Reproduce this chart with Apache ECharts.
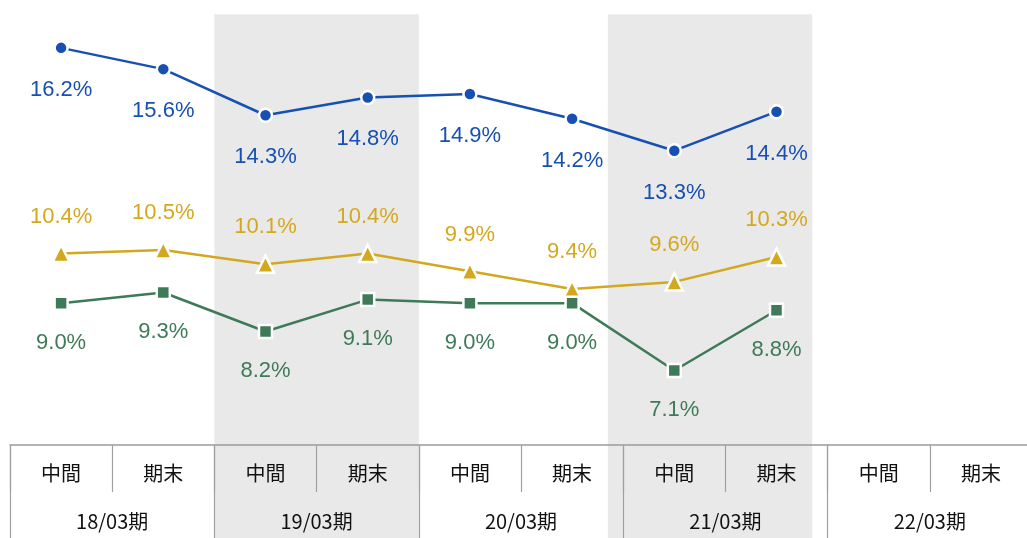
<!DOCTYPE html>
<html><head><meta charset="utf-8">
<script src="https://cdn.jsdelivr.net/npm/echarts@6/dist/echarts.min.js"></script>
<style>html,body{margin:0;padding:0;background:#fff;overflow:hidden;width:1027px;height:538px}#c{width:1032px;height:538px}</style>
</head><body><div id="c"></div>
<script>
const halfLabels = ['中間','期末','中間','期末','中間','期末','中間','期末','中間','期末'];
const periodLabels = ['18/03期','19/03期','20/03期','21/03期','22/03期'];
const blueValues = [16.2, 15.6, 14.3, 14.8, 14.9, 14.2, 13.3, 14.4];
const yellowValues = [10.4, 10.5, 10.1, 10.4, 9.9, 9.4, 9.6, 10.3];
const greenValues = [9.0, 9.3, 8.2, 9.1, 9.0, 9.0, 7.1, 8.8];
const bandRanges = [[2, 4], [5.85, 7.85]];

const BLUE = '#1650b2', YELLOW = '#d4a81e', GREEN = '#3e7a57';
const FONT = '"Liberation Sans", Arial, sans-serif';
const CJK = '"Noto Sans CJK JP", sans-serif';

function lineSeries(name, data, color, symbol, size, pos, dist) {
  return {
    type: 'line', name, data, xAxisIndex: 0, yAxisIndex: 0,
    symbol, symbolSize: size, showAllSymbol: true,
    lineStyle: {color, width: 2.5},
    itemStyle: {color, borderColor: '#fff', borderWidth: 2.5},
    label: {show: true, position: pos, distance: dist, color, fontFamily: FONT, fontSize: 22,
      formatter: p => p.value.toFixed(1) + '%'},
    z: 3, animation: false
  };
}

const chart = echarts.init(document.getElementById('c'));
chart.setOption({
  backgroundColor: '#fff',
  animation: false,
  grid: {left: 10, top: 0, right: 0, bottom: 93, containLabel: false},
  xAxis: [
    {type: 'category', data: halfLabels, position: 'bottom', boundaryGap: true,
     axisLine: {show: true, lineStyle: {color: '#9a9a9a', width: 1.5}},
     axisTick: {show: true, interval: 0, length: 47, lineStyle: {color: '#a0a0a0', width: 1.2}},
     axisLabel: {interval: 0, margin: 18, fontSize: 20, color: '#111', fontFamily: CJK},
     splitLine: {show: false}, z: 2},
    {type: 'category', data: periodLabels, position: 'bottom', boundaryGap: true,
     axisLine: {show: false},
     axisTick: {show: true, interval: 0, length: 93, lineStyle: {color: '#a0a0a0', width: 1.2}},
     axisLabel: {interval: 0, margin: 66, fontSize: 20, color: '#111', fontFamily: CJK},
     splitLine: {show: false}, z: 2},
    {type: 'value', min: 0, max: 10, show: false}
  ],
  yAxis: [{type: 'value', min: 5, max: 17.55, show: false}],
  series: [
    {type: 'custom', xAxisIndex: 2, yAxisIndex: 0, data: bandRanges, z: -1, silent: true,
     renderItem: function (params, api) {
       const a = api.coord([api.value(0), 17.15]);
       const b = api.coord([api.value(1), 5]);
       return {type: 'rect', shape: {x: a[0], y: a[1], width: b[0] - a[0], height: api.getHeight() - a[1]},
         style: {fill: '#e9e9e9'}};
     }},
    lineSeries('blue', blueValues, BLUE, 'circle', 13, 'bottom', 23),
    lineSeries('yellow', yellowValues, YELLOW, 'triangle', 17, 'top', 16),
    lineSeries('green', greenValues, GREEN, 'rect', 13, 'bottom', 21)
  ]
});
</script></body></html>
